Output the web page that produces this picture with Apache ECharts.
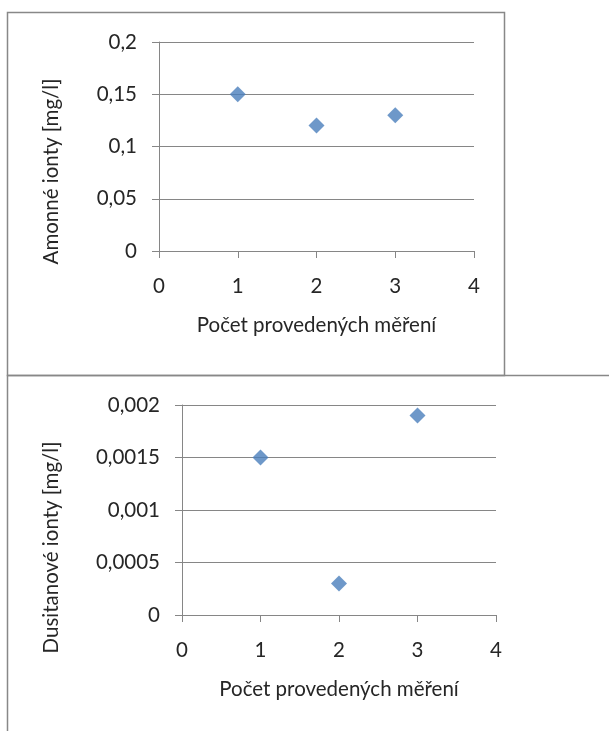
<!DOCTYPE html>
<html><head><meta charset="utf-8">
<script src="https://cdn.jsdelivr.net/npm/echarts@6/dist/echarts.min.js"></script>
<style>html,body{margin:0;padding:0;background:#fff}#c{width:609px;height:731px}</style>
</head><body><div id="c"></div>
<script>
const xTop = [1, 2, 3];
const yTop = [0.15, 0.12, 0.13];
const xBottom = [1, 2, 3];
const yBottom = [0.0015, 0.0003, 0.0019];
const xTickLabels = ['0', '1', '2', '3', '4'];
const yTickLabelsTop = ['0', '0,05', '0,1', '0,15', '0,2'];
const yTickLabelsBottom = ['0', '0,0005', '0,001', '0,0015', '0,002'];
const yTitleTop = 'Amonné ionty [mg/l]';
const yTitleBottom = 'Dusitanové ionty [mg/l]';
const xTitle = 'Počet provedených měření';

const FONT = 'Lato';
const FS = 20.5;
const gridCol = '#868686';
const txt = '#262626';
const markerCol = '#4A7EBB';

function xAxis(idx) {
  return {
    gridIndex: idx, type: 'value', min: 0, max: 4, interval: 1,
    name: xTitle, nameLocation: 'middle', nameGap: 64,
    nameTextStyle: {fontFamily: FONT, fontSize: FS, color: txt},
    axisLine: {show: true, lineStyle: {color: gridCol, width: 1}},
    axisTick: {show: true, length: 7, lineStyle: {color: gridCol}},
    axisLabel: {fontFamily: FONT, fontSize: FS, color: txt, margin: 25,
      formatter: v => xTickLabels[Math.round(v)]},
    splitLine: {show: false}
  };
}
function yAxis(idx, max, interval, labels, title, gap, shift) {
  return {
    gridIndex: idx, type: 'value', min: 0, max: max, interval: interval,
    name: title, nameLocation: 'middle', nameGap: gap, nameRotate: 90,
    nameTextStyle: {fontFamily: FONT, fontSize: FS, color: txt, padding: [0, shift, 0, 0]},
    axisLine: {show: true, lineStyle: {color: gridCol, width: 1}},
    axisTick: {show: true, length: 7, lineStyle: {color: gridCol}},
    axisLabel: {fontFamily: FONT, fontSize: FS, color: txt, margin: 22,
      formatter: v => labels[Math.round(v / interval)]},
    splitLine: {show: true, lineStyle: {color: gridCol, width: 1}}
  };
}

const chart = echarts.init(document.getElementById('c'), null, {renderer: 'canvas'});
chart.setOption({
  animation: false,
  backgroundColor: '#fff',
  graphic: [
    {type: 'rect', shape: {x: 7.5, y: 12.5, width: 497, height: 363}, style: {fill: 'none', stroke: '#888', lineWidth: 1.5}},
    {type: 'rect', shape: {x: 7.5, y: 375.5, width: 640, height: 400}, style: {fill: 'none', stroke: '#888', lineWidth: 1.5}}
  ],
  grid: [
    {left: 159, top: 42, width: 315, height: 209},
    {left: 182, top: 405, width: 314, height: 210}
  ],
  xAxis: [xAxis(0), xAxis(1)],
  yAxis: [
    yAxis(0, 0.2, 0.05, yTickLabelsTop, yTitleTop, 97, 50),
    yAxis(1, 0.002, 0.0005, yTickLabelsBottom, yTitleBottom, 120, 75)
  ],
  series: [
    {type: 'scatter', xAxisIndex: 0, yAxisIndex: 0, symbol: 'diamond', symbolSize: 16,
      itemStyle: {color: markerCol}, data: xTop.map((x, i) => [x, yTop[i]])},
    {type: 'scatter', xAxisIndex: 1, yAxisIndex: 1, symbol: 'diamond', symbolSize: 16,
      itemStyle: {color: markerCol}, data: xBottom.map((x, i) => [x, yBottom[i]])}
  ]
});
</script></body></html>
